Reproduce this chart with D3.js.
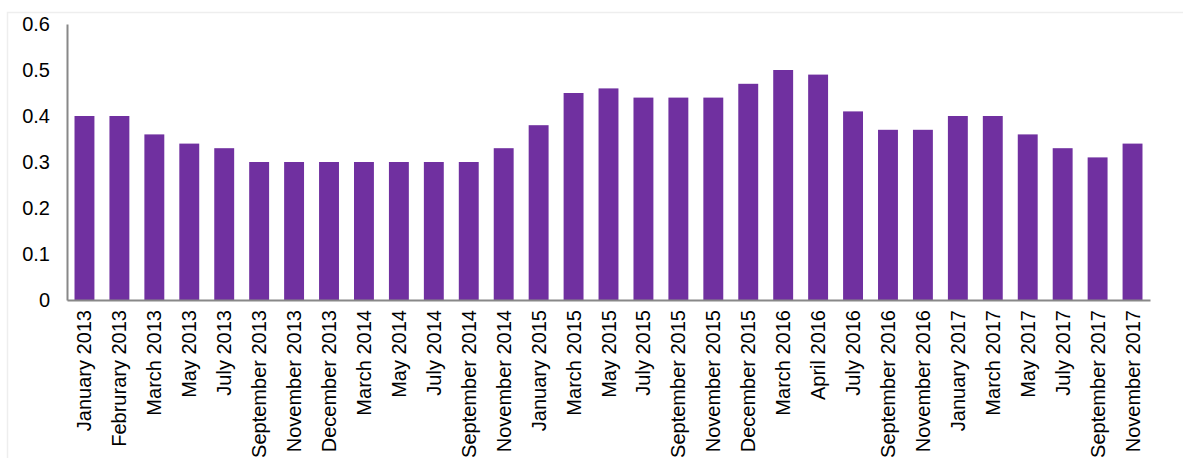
<!DOCTYPE html>
<html><head><meta charset="utf-8">
<script src="https://cdn.jsdelivr.net/npm/d3@7"></script>
<style>body{margin:0;background:#fff}svg{display:block;font-family:"Liberation Sans",Arial,sans-serif}</style>
</head><body><svg id="c" width="1183" height="458"></svg>
<script>
const categories = ["January 2013","Februrary 2013","March 2013","May 2013","July 2013","September 2013","November 2013","December 2013","March 2014","May 2014","July 2014","September 2014","November 2014","January 2015","March 2015","May 2015","July 2015","September 2015","November 2015","December 2015","March 2016","April 2016","July 2016","September 2016","November 2016","January 2017","March 2017","May 2017","July 2017","September 2017","November 2017"];
const values = [0.40,0.40,0.36,0.34,0.33,0.30,0.30,0.30,0.30,0.30,0.30,0.30,0.33,0.38,0.45,0.46,0.44,0.44,0.44,0.47,0.50,0.49,0.41,0.37,0.37,0.40,0.40,0.36,0.33,0.31,0.34];
const yTicks = [0,0.1,0.2,0.3,0.4,0.5,0.6];

const svg = d3.select("#c");
svg.append("rect").attr("x",7.5).attr("y",12.5).attr("width",1200).attr("height",500)
  .attr("fill","none").attr("stroke","#eeeeee").attr("stroke-width",1.5);

const x = d3.scaleBand().domain(categories).range([67,1150]).paddingInner(0.43).paddingOuter(0.215);
const y = d3.scaleLinear().domain([0,0.6]).range([300,24]);

svg.append("g").selectAll("rect").data(values).join("rect")
  .attr("x",(d,i)=>x(categories[i])).attr("width",x.bandwidth())
  .attr("y",d=>y(d)).attr("height",d=>y(0)-y(d)).attr("fill","#7030A0");

const ya = svg.append("g").attr("transform","translate(67,0)")
  .call(d3.axisLeft(y).tickValues(yTicks).tickSize(0).tickPadding(17).tickFormat(d=>d===0?"0":d3.format(".1f")(d)));
ya.select(".domain").attr("stroke","#888").attr("stroke-width",2);
ya.selectAll("text").attr("font-size",20).attr("fill","#000").attr("font-family","Liberation Sans, Arial, sans-serif");

const xa = svg.append("g").attr("transform","translate(0,300)")
  .call(d3.axisBottom(x).tickSize(0).tickPadding(0));
xa.select(".domain").attr("stroke","#888").attr("stroke-width",2);
xa.selectAll("text").attr("font-size",20).attr("fill","#000").attr("font-family","Liberation Sans, Arial, sans-serif")
  .attr("transform","rotate(-90)").attr("text-anchor","end").attr("x",-10).attr("y",0).attr("dy","0.35em");
</script></body></html>
